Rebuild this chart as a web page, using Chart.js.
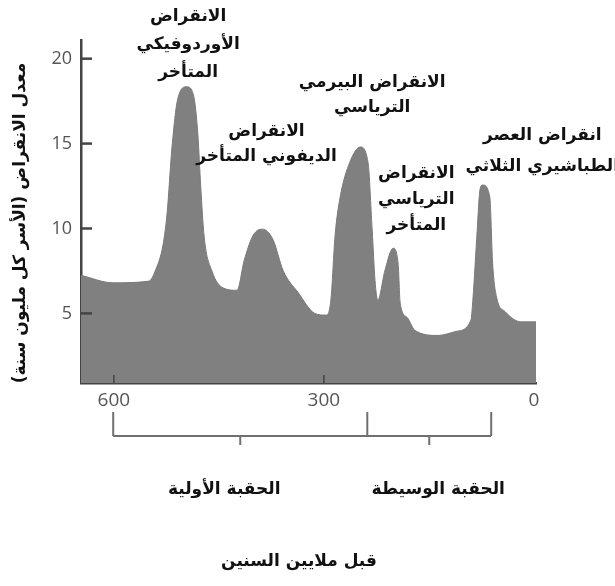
<!DOCTYPE html>
<html><head><meta charset="utf-8">
<script src="https://cdn.jsdelivr.net/npm/chart.js@4.4.1/dist/chart.umd.min.js"></script>
<style>html,body{margin:0;padding:0;background:#fff}#wrap{width:615px;height:586px;position:relative}</style>
</head><body><div id="wrap"><canvas id="c" width="615" height="586"></canvas></div>
<script>
// Age (millions of years ago) and extinction rate (families per million years)
const ages = [647,601,550,540,530,524,517,509,496,486,480,476,471,460,444,424,414,401,388,373,358,337,313,297,290,284,277,263,248,237,231,227,223,213,201,194,191,181,170,137,110,90,87,81,77,73,63,59,53,41,18,-3];
const rates = [7.24,6.8,6.9,7.6,9.0,10.9,14.8,17.6,18.35,17.8,15.5,12.5,9.5,7.5,6.5,6.36,8.1,9.6,9.96,9.37,7.5,6.24,5.0,4.9,5.8,9.6,11.8,13.9,14.8,13.9,9.9,6.95,5.77,7.5,8.84,7.95,5.6,4.76,4.0,3.7,3.95,4.6,5.9,9.9,12.3,12.56,11.85,7.95,5.9,5.1,4.5,4.5];
const xTicks = [600, 300, 0];
const yTicks = [5, 10, 15, 20];
const eraNames = ['الحقبة الأولية', 'الحقبة الوسيطة'];
const eraStart = [601, 238];
const eraEnd = [238, 61];
const eventLabels = [
  ['الانقراض', 'الأوردوفيكي', 'المتأخر'],
  ['الانقراض', 'الديفوني المتأخر'],
  ['الانقراض البيرمي', 'الترياسي'],
  ['الانقراض', 'الترياسي', 'المتأخر'],
  ['انقراض العصر', 'الطباشيري الثلاثي']
];
const yTitle = 'معدل الانقراض (الأسر كل مليون سنة)';
const xTitle = 'قبل ملايين السنين';

// label anchors (age, rate of first line) and line spacing
const eventAnchors = [[494, 22.45], [382, 15.7], [231, 18.6], [168, 13.25], [-12, 15.45]];
const eventGap = [28, 25, 25, 26, 31];
const AR = '"DejaVu Sans", sans-serif';

const overlay = {
  id: 'overlay',
  afterDraw(chart) {
    const ctx = chart.ctx, xs = chart.scales.x, ys = chart.scales.y, ca = chart.chartArea;
    ctx.save();
    // inward ticks
    ctx.strokeStyle = '#444';
    ctx.lineWidth = 2.5;
    yTicks.forEach(v => {
      const y = ys.getPixelForValue(v);
      ctx.beginPath(); ctx.moveTo(ca.left, y); ctx.lineTo(ca.left + 11, y); ctx.stroke();
    });
    ctx.lineWidth = 1.5;
    xTicks.slice(0, 2).forEach(v => {
      const x = xs.getPixelForValue(v);
      ctx.beginPath(); ctx.moveTo(x, ca.bottom); ctx.lineTo(x, ca.bottom - 8); ctx.stroke();
    });
    // era brackets
    ctx.strokeStyle = '#707070';
    ctx.lineWidth = 2;
    const top = 412, base = 436;
    const edges = [eraStart[0], ...eraEnd];
    ctx.beginPath();
    ctx.moveTo(xs.getPixelForValue(edges[0]), base);
    ctx.lineTo(xs.getPixelForValue(edges[edges.length - 1]), base);
    edges.forEach(a => { const x = xs.getPixelForValue(a); ctx.moveTo(x, top); ctx.lineTo(x, base); });
    eraNames.forEach((n, i) => {
      const x = (xs.getPixelForValue(eraStart[i]) + xs.getPixelForValue(eraEnd[i])) / 2;
      ctx.moveTo(x, base); ctx.lineTo(x, base + 9);
    });
    ctx.stroke();
    ctx.fillStyle = '#111';
    ctx.textAlign = 'center';
    ctx.textBaseline = 'middle';
    ctx.font = 'bold 17px ' + AR;
    eraNames.forEach((n, i) => {
      const x = (xs.getPixelForValue(eraStart[i]) + xs.getPixelForValue(eraEnd[i])) / 2;
      ctx.fillText(n, x - (i === 0 ? 16 : -9), 490);
    });
    // event labels
    eventLabels.forEach((lines, i) => {
      const x = xs.getPixelForValue(eventAnchors[i][0]);
      const y0 = ys.getPixelForValue(eventAnchors[i][1]);
      lines.forEach((t, k) => ctx.fillText(t, x, y0 + k * eventGap[i]));
    });
    // axis titles
    ctx.fillText(xTitle, 299, 562);
    ctx.translate(21, 223);
    ctx.rotate(-Math.PI / 2);
    ctx.fillText(yTitle, 0, 0);
    ctx.restore();
  }
};

new Chart(document.getElementById('c'), {
  type: 'line',
  data: {
    datasets: [{
      data: ages.map((a, i) => ({ x: a, y: rates[i] })),
      fill: 'start',
      backgroundColor: '#808080',
      borderColor: '#7a7a7a',
      borderWidth: 1,
      pointRadius: 0,
      cubicInterpolationMode: 'monotone'
    }]
  },
  options: {
    responsive: false,
    animation: false,
    layout: { padding: { left: 0, right: 79, top: 40, bottom: 0 } },
    plugins: { legend: { display: false }, tooltip: { enabled: false } },
    scales: {
      x: {
        type: 'linear', reverse: true, min: -3, max: 647,
        afterBuildTicks: s => { s.ticks = xTicks.map(v => ({ value: v })); },
        afterFit: s => { s.height = 203; },
        grid: { display: false, drawTicks: false },
        border: { display: true, color: '#444', width: 2.5 },
        ticks: { padding: 6, color: '#555', font: { family: '"Open Sans", sans-serif', size: 19 }, maxRotation: 0, autoSkip: false }
      },
      y: {
        min: 0.9, max: 21.1,
        afterBuildTicks: s => { s.ticks = yTicks.map(v => ({ value: v })); },
        afterFit: s => { s.width = 81; },
        grid: { display: false, drawTicks: false },
        border: { display: true, color: '#444', width: 2.5 },
        ticks: { padding: 9, color: '#555', font: { family: '"Open Sans", sans-serif', size: 18 } }
      }
    }
  },
  plugins: [overlay]
});
</script></body></html>
